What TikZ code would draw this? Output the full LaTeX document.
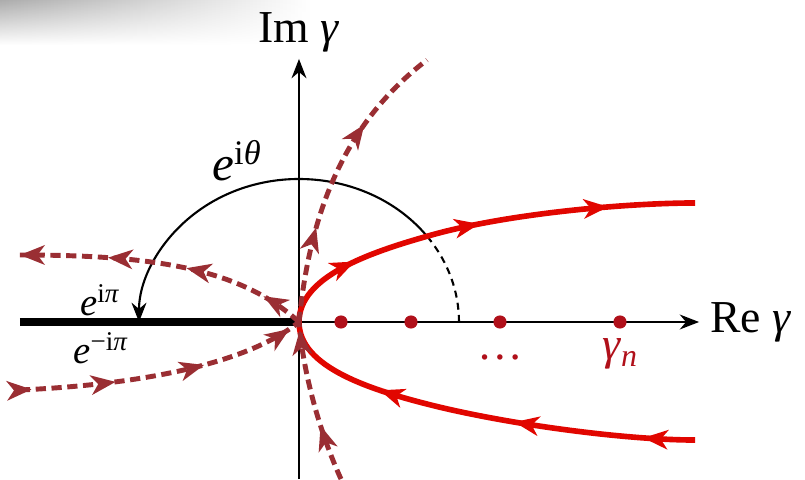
\documentclass[tikz,border=0pt]{standalone}
\usepackage{fontspec}
\setmainfont{Liberation Serif}
\usetikzlibrary{positioning,arrows.meta,decorations.markings,fadings}
\definecolor{FlowRed}{HTML}{E10600}
\definecolor{GhostRed}{HTML}{9A2E33}
\definecolor{PoleRed}{HTML}{B0101A}

\begin{document}
\begin{tikzpicture}[scale=0.02,
    axis/.style={line width=1pt,-{Stealth[length=11pt,width=8.5pt]}},
    flow/.style={FlowRed,line width=3.2pt},
    ghost/.style={GhostRed,line width=2.8pt,dash pattern=on 5.8pt off 3.2pt},
    tip/.style={postaction={decorate,decoration={markings,
        mark=at position #1 with {\arrow{Stealth[length=14pt,width=11pt,inset=4pt]}}}}},
    pole/.style={circle,fill=PoleRed,inner sep=0pt,minimum size=7.5pt},
    lbl/.style={font=\fontsize{26}{30}\selectfont},
    small/.style={font=\fontsize{22}{26}\selectfont}]
  \useasboundingbox (-299,-157) rectangle (506,322);
  \shade[left color=gray!65,right color=white,path fading=south]
    (-299,322) rectangle (12,277);

  \coordinate (O) at (0,0);
  \coordinate (cut) at (-279,0);
  \coordinate (xend) at (400,0);
  \coordinate (ybot) at (0,-157);
  \coordinate (ytop) at (0,263);
  \coordinate (uend) at (396,119);
  \coordinate (lend) at (396,-118);
  \coordinate (gup) at (128,262);
  \coordinate (gdown) at (42,-157);
  \coordinate (gleft) at (-279,67);
  \coordinate (glow) at (-279,-68);

  \draw[line width=4.4pt] (cut) -- (O);
  \draw[axis] (O) -- (xend);
  \draw[axis] (ybot) -- (ytop);
  \node[lbl] (relabel) [right=0.1cm of xend] {Re \textit{γ}};
  \node[lbl] (imlabel) [above=0.02cm of ytop] {Im \textit{γ}};

  \draw[line width=1.2pt,dash pattern=on 4pt off 3pt]
    (160,0) arc[start angle=0,end angle=36,x radius=160,y radius=143];
  \draw[line width=1.2pt,-{Stealth[length=11pt,width=8.5pt]}]
    (36:160 and 143) arc[start angle=36,end angle=180,x radius=160,y radius=143];
  \node[font=\fontsize{28}{32}\selectfont] (etheta) at (-62,161)
    {\textit{e}\textsuperscript{i\textit{θ}}};
  \node[small] (epi) at (-199,22) {\textit{e}\textsuperscript{i\textit{π}}};
  \node[small] (empi) at (-198,-26) {\textit{e}\textsuperscript{−i\textit{π}}};

  \draw[flow,tip=0.2,tip=0.5,tip=0.8]
    (O) .. controls (0,45) and (69,69) .. (129,86)
        .. controls (209,109) and (330,119) .. (uend);
  \draw[flow,tip=0.12,tip=0.42,tip=0.74]
    (lend) .. controls (330,-118) and (220,-104) .. (140,-85)
           .. controls (70,-68) and (0,-45) .. (O);

  \draw[ghost,tip=0.32,tip=0.7] (O) .. controls (10,100) and (40,195) .. (gup);
  \draw[ghost,tip=0.35,tip=0.95] (gdown) .. controls (25,-120) and (5,-60) .. (O);
  \draw[ghost,tip=0.15,tip=0.43,tip=0.7,tip=1]
    (O) .. controls (-60,55) and (-150,67) .. (gleft);
  \draw[ghost,tip=0.04,tip=0.33,tip=0.64,tip=0.96]
    (glow) .. controls (-150,-62) and (-50,-40) .. (O);

  \node[pole] (g1) at (42,0) {};
  \node[pole] (g2) at (112,0) {};
  \node[pole] (g3) at (201,0) {};
  \node[pole] (g4) at (321,0) {};
  \node[lbl,text=PoleRed] (gdots) at (201,-35) {\dots};
  \node[lbl,text=PoleRed] (gn) at (321,-32) {\textit{γ}\textsubscript{\textit{n}}};
\end{tikzpicture}
\end{document}
